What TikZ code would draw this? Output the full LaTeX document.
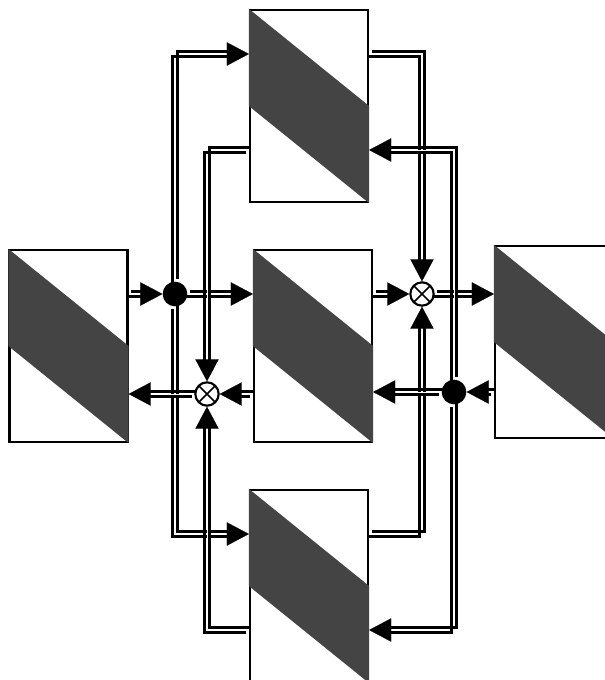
\documentclass[tikz,border=0pt]{standalone}
\usetikzlibrary{arrows.meta,backgrounds}
\definecolor{bandgray}{RGB}{68,68,68}
\newcommand\wire[1]{%
  \draw[tipline] #1;
  \draw[rail, transform canvas={shift={(2pt,2pt)}}] #1;
  \draw[rail, transform canvas={shift={(-2pt,-2pt)}}] #1;}
\tikzset{
  tipline/.style={white, line width=0.1pt, -{Triangle[length=16.5pt,width=17.5pt,color=black]}},
  rail/.style={black, line width=1.8pt, shorten >=12pt},
  block/.style={draw, line width=1.7pt, fill=white, minimum width=88.5pt, minimum height=144pt, inner sep=0pt},
  splitdot/.style={circle, fill=black, minimum size=18.5pt, inner sep=0pt},
  summer/.style={circle, draw, line width=1.6pt, fill=white, minimum size=17.5pt, inner sep=0pt,
    path picture={\draw[line width=1.3pt] (path picture bounding box.north west) -- (path picture bounding box.south east)
      (path picture bounding box.north east) -- (path picture bounding box.south west);}}
}
\begin{document}
\begin{tikzpicture}[x=0.75pt, y=-0.75pt]
      \useasboundingbox (0,0) rectangle (605,680);
      \clip (0,0) rectangle (605,680);
      \node[block] (L) at (68.5,346) {};
      \node[block] (T) at (309,106) {};
      \node[block] (C) at (313,346) {};
      \node[block] (R) at (554,342) {};
      \node[block] (B) at (309,586) {};
      \foreach \b in {L,T,C,R,B}
        \fill[bandgray] (\b.north west) -- (\b.east) -- (\b.south east) -- (\b.west) -- cycle;
      \node[splitdot] (s1) at (175,294) {};
      \node[splitdot] (s2) at (454,392) {};
      \node[summer] (x1) at (207,394) {};
      \node[summer] (x2) at (422,294) {};
      \begin{scope}[on background layer]
      \wire{(L.east |- s1) -- (s1)}
      \wire{(s1) -- (C.west |- s1)}
      \wire{(s1) |- (T.west |- 0,54)}
      \wire{(s1) |- (B.west |- 0,534)}
      \wire{(T.west |- 0,150) -| (x1)}
      \wire{(B.west |- 0,630) -| (x1)}
      \wire{(C.west |- x1) -- (x1)}
      \wire{(x1) -- (L.east |- x1)}
      \wire{(C.east |- x2) -- (x2)}
      \wire{(x2) -- (R.west |- x2)}
      \wire{(T.east |- 0,54) -| (x2)}
      \wire{(B.east |- 0,534) -| (x2)}
      \wire{(R.west |- s2) -- (s2)}
      \wire{(s2) -- (C.east |- s2)}
      \wire{(s2) |- (T.east |- 0,150)}
      \wire{(s2) |- (B.east |- 0,630)}
      \end{scope}
\end{tikzpicture}
\end{document}
